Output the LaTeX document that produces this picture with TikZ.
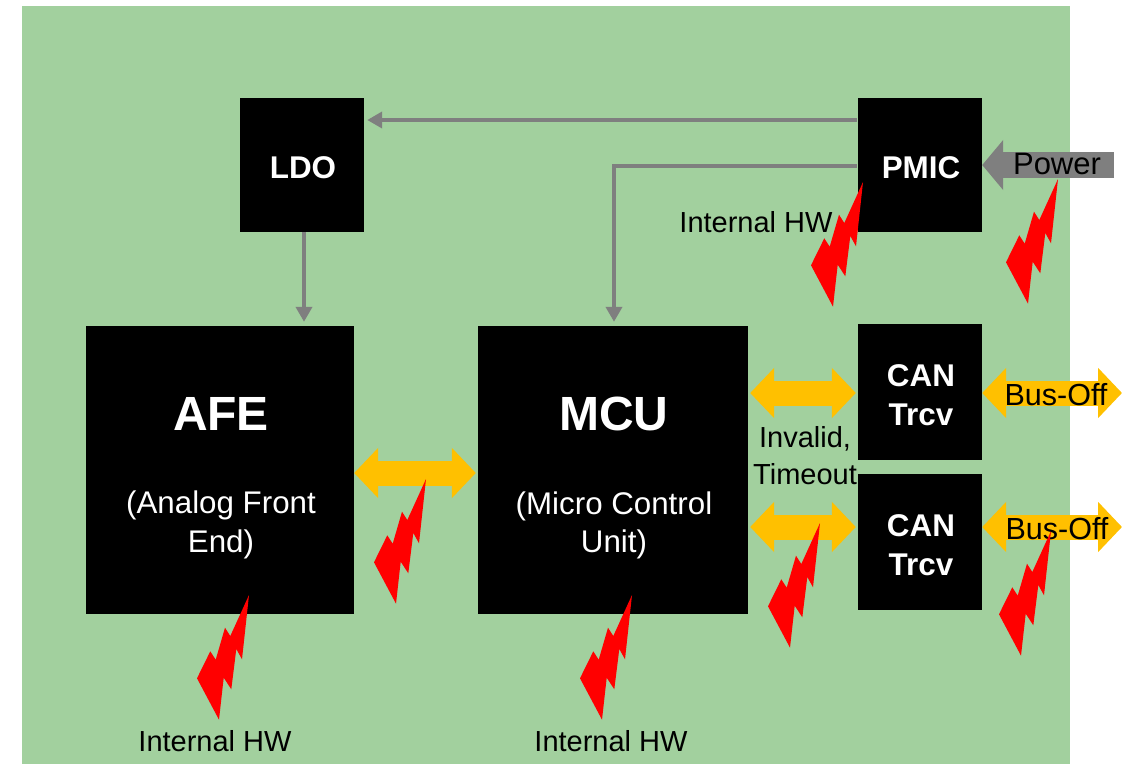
\documentclass[tikz,border=0pt]{standalone}
\usepackage{fontspec}
\setmainfont{Liberation Sans}
\usetikzlibrary{arrows.meta}

\newcommand{\fsize}[1]{\fontsize{#1}{#1}\selectfont}

\begin{document}
\begin{tikzpicture}
	[   x=1pt,y=-1pt,
	    cbox/.style={fill=black,inner sep=0pt},
	    small box/.style={cbox,minimum width=124pt,minimum height=#1},
	    big box/.style={cbox,minimum width=#1,minimum height=288pt},
	    box text/.style={text=white,inner sep=0pt,align=center,font=\fsize{31.4}\bfseries},
	    big text/.style={box text,font=\fsize{31.3}},
	    hw label/.style={font=\fsize{#1},inner sep=0pt,align=center},
	    hw label/.default=29,
	]
	\tikzset{power arrow/.style={draw=gray50,line width=4pt,-{Triangle[length=15pt,width=16pt]}}}
	\tikzset{amber arrow/.style={draw=amber,line width=25pt,{Triangle[length=24pt,width=49pt]}-{Triangle[length=24pt,width=49pt]}}}
	\tikzset{bolt/.pic={\fill[red] (0,0) -- (-7,64.3) -- (-12.7,54) -- (-17.7,94.3) -- (-25.3,82.7) -- (-30,124.7)
		-- (-52,83.3) -- (-38.7,56.3) -- (-33.3,64.7) -- (-24,32.7) -- (-18.7,41) -- cycle;}}
	\definecolor{gray50}{HTML}{7F7F7F}
	\definecolor{amber}{HTML}{FFC000}
	\definecolor{board}{HTML}{A2D09E}

	\useasboundingbox (0,0) rectangle (1133,764);
	\fill[board] (22,6) rectangle (1070,764);

	\node[small box=134pt,label={[box text,xshift=1pt,yshift=-3pt]center:LDO}] (ldo) at (302,165) {};
	\node[small box=134pt,label={[box text,xshift=1pt,yshift=-3pt]center:PMIC}] (pmic) at (920,165) {};
	\node[small box=136pt,label={[box text,xshift=1pt,yshift=-3pt]center:CAN\\[7pt]Trcv}] (can-1) at (920,392) {};
	\node[small box=136pt,label={[box text,xshift=1pt,yshift=-3pt]center:CAN\\[7pt]Trcv}] (can-2) at (920,542) {};

	\node[big box=268pt,label={[big text,xshift=1pt,yshift=-8pt]center:{\fsize{48}\bfseries AFE}\\[52pt](Analog Front\\[7pt]End)}] (afe) at (220,470) {};
	\node[big box=270pt,label={[big text,xshift=1pt,yshift=-8pt]center:{\fsize{48}\bfseries MCU}\\[52pt](Micro Control\\[7pt]Unit)}] (mcu) at (613,470) {};

	\coordinate (power-in) at (1114,165);
	\coordinate (bus-1) at (1122,393);
	\coordinate (bus-2) at (1122,527);

	\draw[power arrow,shorten >=3pt,shorten <=1pt] ([yshift=45pt]pmic.west) -- ([yshift=45pt]pmic.west -| ldo.east);
	\draw[power arrow,shorten >=4pt,shorten <=1pt] ([yshift=-1pt]pmic.west) -| ([xshift=1pt]mcu.north);
	\draw[power arrow,shorten >=4pt] ([xshift=2pt]ldo.south) -- ([xshift=2pt]ldo.south |- afe.north);

	\draw[draw=gray50,line width=26pt,-{Triangle[length=21pt,width=49pt]}] (power-in) -- (pmic.east);

	\draw[amber arrow,shorten >=2pt] ([yshift=-3pt]afe.east) -- ([yshift=-3pt]afe.east -| mcu.west);
	\draw[amber arrow,shorten >=2pt,shorten <=2pt] (mcu.east |- bus-1) -- (can-1.west |- bus-1);
	\draw[amber arrow,shorten >=2pt,shorten <=2pt] (mcu.east |- bus-2) -- (can-2.west |- bus-2);
	\draw[amber arrow] (can-1.east |- bus-1) -- (bus-1);
	\draw[amber arrow] (can-2.east |- bus-2) -- (bus-2);

	\node[hw label=31] (power) at (1057,164) {Power};
	\node[hw label=30.5] (busoff-1) at (1056,395) {Bus-Off};
	\node[hw label=30.5] (busoff-2) at (1057,529) {Bus-Off};
	\node[hw label] (invalid) at (805,439) {Invalid,};
	\node[hw label] (timeout) at (805,474) {Timeout};
	\node[hw label] (hw-pmic) at (756,222) {Internal HW};
	\node[hw label] (hw-afe) at (215,741) {Internal HW};
	\node[hw label] (hw-mcu) at (611,741) {Internal HW};

	\foreach \x/\y in {249/595,632/595,426/479,820/523,1051/531,863/182,1058/179}
	{
		\pic at (\x,\y) {bolt};
	}
\end{tikzpicture}
\end{document}
